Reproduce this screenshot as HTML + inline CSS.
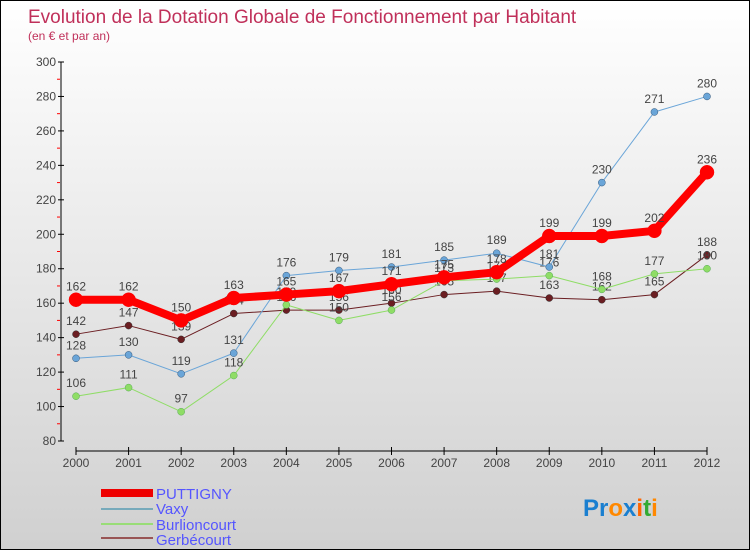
<!DOCTYPE html>
<html><head><meta charset="utf-8"><style>
body{margin:0}
#c{width:750px;height:550px;position:relative;overflow:hidden;box-sizing:border-box;border:1px solid #000;background:linear-gradient(#fff,#d0d0d0);font-family:"Liberation Sans",sans-serif}
</style></head><body>
<div id="c">
<svg width="750" height="550" id="s">
<text x="27" y="22" font-size="19" fill="#c0305a">Evolution de la Dotation Globale de Fonctionnement par Habitant</text>
<text x="27" y="39" font-size="12" fill="#c0305a">(en € et par an)</text>
<g id="ax"></g><g id="marks"></g>
<g>
<rect x="100" y="488" width="52" height="8" fill="#e00"/>
<text x="155" y="498" font-size="15" fill="#55f">PUTTIGNY</text>
<rect x="100" y="507" width="52" height="2" fill="#7ab"/>
<text x="155" y="513" font-size="15" fill="#55f">Vaxy</text>
<rect x="100" y="522" width="52" height="2" fill="#9d7"/>
<text x="155" y="529" font-size="15" fill="#55f">Burlioncourt</text>
<rect x="100" y="536" width="52" height="2" fill="#955"/>
<text x="155" y="544" font-size="15" fill="#55f">Gerbécourt</text>
</g>
<text x="582" y="515" font-size="24" font-weight="bold"><tspan fill="#1a7fd0">Pr</tspan><tspan fill="#f80">o</tspan><tspan fill="#1a7fd0">x</tspan><tspan fill="#f60">i</tspan><tspan fill="#3a3">t</tspan><tspan fill="#f80">i</tspan></text>
</svg></div>
<script>
const years=[2000,2001,2002,2003,2004,2005,2006,2007,2008,2009,2010,2011,2012];
const yTicks=[80,100,120,140,160,180,200,220,240,260,280,300];
const puttigny=[162,162,150,163,165,167,171,175,178,199,199,202,236];
const vaxy=[128,130,119,131,176,179,181,185,189,181,230,271,280];
const burlioncourt=[106,111,97,118,159,150,156,173,174,176,168,177,180];
const gerbecourt=[142,147,139,154,156,156,160,165,167,163,162,165,188];
const NS="http://www.w3.org/2000/svg";
const X=i=>75+i*(706-75)/(years.length-1);
const Y=v=>61+(300-v)*(440-61)/220;
function mk(t,a,p,name){const e=document.createElementNS(NS,t);for(const k in a)e.setAttribute(k,a[k]);


p.appendChild(e);return e;}
const ax=document.getElementById('ax'),mg=document.getElementById('marks');
mk('line',{x1:60,y1:61,x2:60,y2:440,stroke:'#000'},ax,'y-axis');
yTicks.forEach(v=>{mk('line',{x1:57,y1:Y(v),x2:63,y2:Y(v),stroke:'#000'},ax,'y-tick');
const t=mk('text',{x:55,y:Y(v)+4,'font-size':12,fill:'#444','text-anchor':'end'},ax,'y-tick-label');t.textContent=v;
if(v<300)mk('line',{x1:56,y1:Y(v+10),x2:59,y2:Y(v+10),stroke:'#f00'},ax,'y-minor-tick');});
mk('line',{x1:75,y1:450,x2:706,y2:450,stroke:'#000'},ax,'x-axis');
years.forEach((y,i)=>{mk('line',{x1:X(i),y1:446,x2:X(i),y2:454,stroke:'#000'},ax,'x-tick');
const t=mk('text',{x:X(i),y:466,'font-size':12,fill:'#444','text-anchor':'middle'},ax,'x-tick-label');t.textContent=y;});
function series(d,col,w,r,name,lab){
mk('polyline',{points:d.map((v,i)=>X(i)+','+Y(v)).join(' '),fill:'none',stroke:col,'stroke-width':w,'stroke-linejoin':'round'},mg,name+'-line');
d.forEach((v,i)=>{mk('circle',{cx:X(i),cy:Y(v),r:r,fill:col,stroke:lab,'stroke-width':0.5},mg,name+'-point');
const t=mk('text',{x:X(i),y:Y(v)-9,'font-size':12,fill:'#444','text-anchor':'middle'},mg,name+'-value-label');t.textContent=v;});}
series(gerbecourt,'#6b1e22',1,3.5,'gerbecourt','#333');
series(burlioncourt,'#8fdd66',1,3.5,'burlioncourt','#5a5');
series(vaxy,'#6aa5d8',1,3.5,'vaxy','#357');
series(puttigny,'#f00',8,7,'puttigny','#f00');
</script></body></html>
